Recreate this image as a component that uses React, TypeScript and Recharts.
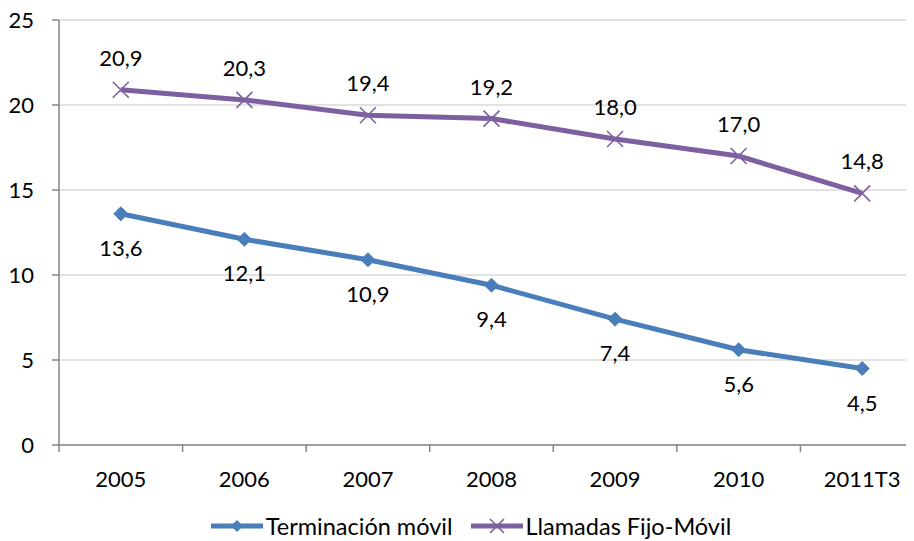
import React from 'react';
import { LineChart, Line, XAxis, YAxis, CartesianGrid, Legend, LabelList } from 'recharts';

const categories = ['2005', '2006', '2007', '2008', '2009', '2010', '2011T3'];
const terminacionMovil = [13.6, 12.1, 10.9, 9.4, 7.4, 5.6, 4.5];
const llamadasFijoMovil = [20.9, 20.3, 19.4, 19.2, 18.0, 17.0, 14.8];
const yTicks = [0, 5, 10, 15, 20, 25];
const xTicks = [-0.5, 0, 0.5, 1, 1.5, 2, 2.5, 3, 3.5, 4, 4.5, 5, 5.5, 6, 6.5];

const SERIES_A = 'Terminación móvil';
const SERIES_B = 'Llamadas Fijo-Móvil';
const BLUE = '#4A7EBB';
const PURPLE = '#7D60A0';
const AXIS = '#868686';
const GRID = '#D9D9D9';
const FONT = 'Lato, "Open Sans", sans-serif';
const FS = 22;
const LFS = 23.5;

const data = categories.map((c, i) => ({
  x: i,
  cat: c,
  a: terminacionMovil[i],
  b: llamadasFijoMovil[i],
}));

const fmt = (v: number) => v.toFixed(1).replace('.', ',');

const XTick = (props: any) => {
  const { x, y, payload } = props;
  const v = payload.value as number;
  if (Math.abs(v - Math.round(v)) > 0.01) {
    return <line x1={x} y1={y} x2={x} y2={y + 7} stroke={AXIS} strokeWidth={1.5} />;
  }
  return (
    <text x={x} y={y + 42} textAnchor="middle" fontFamily={FONT} fontSize={FS} fill="#000">
      {categories[Math.round(v)]}
    </text>
  );
};

const Diamond = (props: any) => {
  const { cx, cy, index } = props;
  if (cx == null || cy == null) return <g key={`da-${index}`} />;
  const r = 7;
  return (
    <path
      key={`da-${index}`}
      d={`M${cx},${cy - r}L${cx + r},${cy}L${cx},${cy + r}L${cx - r},${cy}Z`}
      fill={BLUE}
      stroke={BLUE}
    />
  );
};

const Cross = (props: any) => {
  const { cx, cy, index } = props;
  if (cx == null || cy == null) return <g key={`db-${index}`} />;
  const r = 8;
  return (
    <path
      key={`db-${index}`}
      d={`M${cx - r},${cy - r}L${cx + r},${cy + r}M${cx - r},${cy + r}L${cx + r},${cy - r}`}
      stroke={PURPLE}
      strokeWidth={1.6}
      fill="none"
    />
  );
};

const TopLabel = (props: any) => {
  const { x, y, value } = props;
  return (
    <text x={x} y={y - 24} textAnchor="middle" fontFamily={FONT} fontSize={FS} fill="#000">
      {fmt(value)}
    </text>
  );
};

const BottomLabel = (props: any) => {
  const { x, y, value } = props;
  return (
    <text x={x} y={y + 42} textAnchor="middle" fontFamily={FONT} fontSize={FS} fill="#000">
      {fmt(value)}
    </text>
  );
};

const LegendContent = () => (
  <div
    style={{
      display: 'flex',
      justifyContent: 'center',
      alignItems: 'center',
      height: 30,
      paddingLeft: 10,
      fontFamily: FONT,
      fontSize: LFS,
      color: '#000',
    }}
  >
    <svg width={52} height={20} style={{ marginRight: 3 }}>
      <line x1={0} y1={10} x2={52} y2={10} stroke={BLUE} strokeWidth={5} />
      <path d="M26,4L32,10L26,16L20,10Z" fill={BLUE} />
    </svg>
    <span style={{ marginRight: 18 }}>{SERIES_A}</span>
    <svg width={52} height={20} style={{ marginRight: 3 }}>
      <line x1={0} y1={10} x2={52} y2={10} stroke={PURPLE} strokeWidth={5} />
      <path d="M19,3L33,17M19,17L33,3" stroke={PURPLE} strokeWidth={1.6} />
    </svg>
    <span>{SERIES_B}</span>
  </div>
);

export default function App() {
  return (
    <div style={{ width: 914, height: 541, overflow: 'hidden', margin: '-8px 0 0 -8px' }}>
      <LineChart
        width={938}
        height={541}
        data={data}
        margin={{ top: 20, right: 14, bottom: 0, left: 8 }}
      >
        <CartesianGrid vertical={false} stroke={GRID} strokeWidth={1.5} />
        <XAxis
          dataKey="x"
          type="number"
          domain={[-0.5, 6.5]}
          ticks={xTicks}
          interval={0}
          tickLine={false}
          tickSize={0}
          tickMargin={0}
          tick={<XTick />}
          axisLine={{ stroke: AXIS, strokeWidth: 1.5 }}
          height={66}
          allowDataOverflow
        />
        <YAxis
          type="number"
          domain={[0, 25]}
          ticks={yTicks}
          interval={0}
          width={51}
          tickSize={7}
          tickMargin={18}
          tickLine={{ stroke: AXIS, strokeWidth: 1.5 }}
          axisLine={{ stroke: AXIS, strokeWidth: 1.5 }}
          tick={{ fontFamily: FONT, fontSize: FS, fill: '#000' }}
        />
        <Legend verticalAlign="bottom" height={30} content={<LegendContent />} />
        <Line
          name={SERIES_A}
          dataKey="a"
          stroke={BLUE}
          strokeWidth={5}
          dot={Diamond}
          activeDot={false}
          isAnimationActive={false}
        >
          <LabelList dataKey="a" content={BottomLabel} />
        </Line>
        <Line
          name={SERIES_B}
          dataKey="b"
          stroke={PURPLE}
          strokeWidth={5}
          dot={Cross}
          activeDot={false}
          isAnimationActive={false}
        >
          <LabelList dataKey="b" content={TopLabel} />
        </Line>
      </LineChart>
    </div>
  );
}
